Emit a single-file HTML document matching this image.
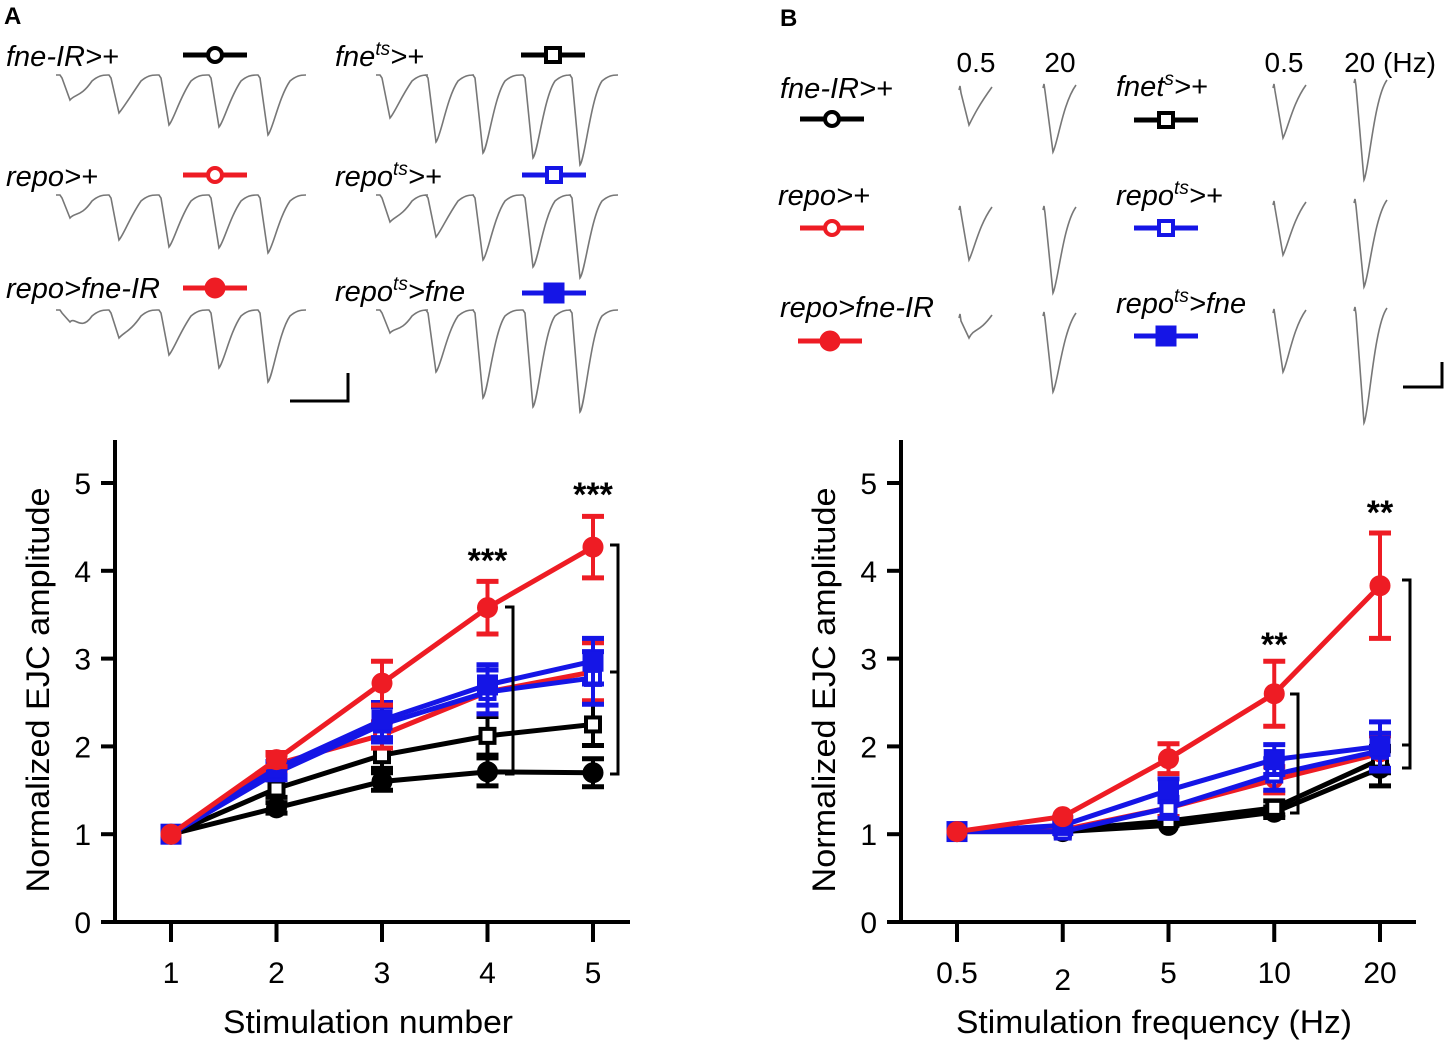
<!DOCTYPE html>
<html><head><meta charset="utf-8"><style>
body{margin:0;background:#fff;width:1450px;height:1046px;overflow:hidden}
svg{display:block;font-family:"Liberation Sans",Arial,sans-serif}
</style></head><body>
<svg id="fig" width="1450" height="1046" viewBox="0 0 1450 1046">
<text x="4" y="24" font-size="24" font-weight="bold">A</text>
<text x="780" y="26" font-size="24" font-weight="bold">B</text>
<g id="legA" font-size="29" font-style="italic">
<text x="6" y="66">fne-IR&gt;+</text>
<text x="6" y="186">repo&gt;+</text>
<text x="6" y="298">repo&gt;fne-IR</text>
<text x="335" y="66">fne<tspan font-size="19" dy="-11">ts</tspan><tspan dy="11">&gt;+</tspan></text>
<text x="335" y="186">repo<tspan font-size="19" dy="-11">ts</tspan><tspan dy="11">&gt;+</tspan></text>
<text x="335" y="301">repo<tspan font-size="19" dy="-11">ts</tspan><tspan dy="11">&gt;fne</tspan></text>
</g>
<g id="legB" font-size="29" font-style="italic">
<text x="780" y="98">fne-IR&gt;+</text>
<text x="778" y="205">repo&gt;+</text>
<text x="780" y="317">repo&gt;fne-IR</text>
<text x="1116" y="96">fnet<tspan font-size="19" dy="-11">s</tspan><tspan dy="11">&gt;+</tspan></text>
<text x="1116" y="205">repo<tspan font-size="19" dy="-11">ts</tspan><tspan dy="11">&gt;+</tspan></text>
<text x="1116" y="313">repo<tspan font-size="19" dy="-11">ts</tspan><tspan dy="11">&gt;fne</tspan></text>
</g>
<g font-size="28">
<text x="976" y="72" text-anchor="middle">0.5</text>
<text x="1060" y="72" text-anchor="middle">20</text>
<text x="1284" y="72" text-anchor="middle">0.5</text>
<text x="1390" y="72" text-anchor="middle">20 (Hz)</text>
</g>
<g id="traces" fill="none" stroke="#777" stroke-width="1.6"></g>
<path d="M290 401 H348 V373" fill="none" stroke="#000" stroke-width="3"/>
<path d="M1403 387 H1442 V362" fill="none" stroke="#000" stroke-width="3"/>
<g id="legendMarks"></g>
<g id="chartA"></g>
<g id="chartB"></g>
</svg>
<script>
// ---- data ----
const xA = ["1","2","3","4","5"];
const xB = ["0.5","2","5","10","20"];
const yTicks = [0,1,2,3,4,5];
const A_fneIR   = [1,1.3,1.6,1.71,1.7];
const A_fneIR_e = [0.03,0.06,0.1,0.16,0.16];
const A_fnets   = [1,1.52,1.9,2.12,2.25];
const A_fnets_e = [0.03,0.1,0.15,0.22,0.24];
const A_repo    = [1,1.8,2.13,2.62,2.85];
const A_repo_e  = [0.03,0.1,0.15,0.25,0.33];
const A_repoIR  = [1,1.85,2.72,3.58,4.27];
const A_repoIR_e= [0.03,0.08,0.25,0.3,0.35];
const A_repots  = [1,1.7,2.25,2.62,2.78];
const A_repots_e= [0.03,0.08,0.2,0.25,0.3];
const A_repotsF = [1,1.75,2.3,2.7,2.97];
const A_repotsF_e=[0.03,0.08,0.2,0.23,0.26];
const B_fneIR   = [1.03,1.03,1.1,1.25,1.75];
const B_fneIR_e = [0.02,0.03,0.04,0.06,0.2];
const B_fnets   = [1.03,1.05,1.15,1.3,1.85];
const B_fnets_e = [0.02,0.03,0.05,0.08,0.15];
const B_repo    = [1.03,1.05,1.3,1.62,1.92];
const B_repo_e  = [0.02,0.03,0.1,0.15,0.2];
const B_repoIR  = [1.03,1.2,1.86,2.6,3.83];
const B_repoIR_e= [0.02,0.04,0.17,0.37,0.6];
const B_repots  = [1.03,1.03,1.3,1.68,1.95];
const B_repots_e= [0.02,0.03,0.12,0.18,0.2];
const B_repotsF = [1.03,1.1,1.5,1.85,2.0];
const B_repotsF_e=[0.02,0.04,0.13,0.17,0.28];
// ---- helpers ----
const NS="http://www.w3.org/2000/svg";
function mk(tag,attrs,parent){const e=document.createElementNS(NS,tag);for(const k in attrs)e.setAttribute(k,attrs[k]);parent.appendChild(e);return e;}
const RED="#ee1c24",BLUE="#1515e6",BLK="#000";
function marker(g,shape,filled,col,x,y){
  let e;
  if(shape==="c"){e=mk("circle",{cx:x,cy:y,r:filled?10:7,fill:filled?col:"#fff",stroke:col,"stroke-width":filled?1:4},g);}
  else{const s=filled?20:14;e=mk("rect",{x:x-s/2,y:y-s/2,width:s,height:s,fill:filled?col:"#fff",stroke:col,"stroke-width":filled?1:4},g);}
  return e;
}
// legend marks
const lg=document.getElementById("legendMarks");
const legendItems=[
 [183,247,55,"c",0,BLK,"legend-fne-ir-a"],[183,247,175,"c",0,RED,"legend-repo-a"],[183,247,288,"c",1,RED,"legend-repo-fne-ir-a"],
 [521,585,55,"s",0,BLK,"legend-fnets-a"],[522,586,175,"s",0,BLUE,"legend-repots-a"],[522,586,293,"s",1,BLUE,"legend-repots-fne-a"],
 [800,864,119,"c",0,BLK,"legend-fne-ir-b"],[800,864,228,"c",0,RED,"legend-repo-b"],[798,862,341,"c",1,RED,"legend-repo-fne-ir-b"],
 [1134,1198,120,"s",0,BLK,"legend-fnets-b"],[1134,1198,228,"s",0,BLUE,"legend-repots-b"],[1134,1198,336,"s",1,BLUE,"legend-repots-fne-b"]];
legendItems.forEach(it=>{
  const g=mk("g",{},lg);
  
  
  mk("line",{x1:it[0],x2:it[1],y1:it[2],y2:it[2],stroke:it[5],"stroke-width":5},g);
  marker(g,it[3],it[4],it[5],(it[0]+it[1])/2,it[2]);
});
// traces
const tg=document.getElementById("traces");
function train(x0,xs,base,bottoms,xend){
  let d=`M${x0} ${base}`;
  xs.forEach((x,i)=>{
    d+=` L${x-2} ${base} L${x} ${base+3} L${x+8} ${bottoms[i]} C${x+13} ${bottoms[i]-6} ${x+19} ${base+22} ${x+30} ${base+6} C${x+36} ${base+1} ${x+40} ${base} ${x+46} ${base}`;
  });
  return d;
}
const trainsA=[
 [56,[62,111,161,211,260],75,[100,113,125,127,135]],
 [56,[62,111,161,211,260],195,[218,240,247,248,253]],
 [56,[62,111,161,211,260],310,[322,338,355,368,382]],
 [376,[382,428,475,525,572],75,[118,142,153,158,165]],
 [376,[382,428,475,525,572],195,[222,237,260,267,278]],
 [376,[382,428,475,525,572],310,[333,372,398,407,412]]];
trainsA.forEach((t,i)=>{const p=mk("path",{d:train(t[0],t[1],t[2],t[3])},tg);
  
  });
function single(x,base,bottom){
  return `M${x} ${base} L${x+1} ${base-4} L${x+2} ${base+3} L${x+10} ${bottom} C${x+15} ${bottom-10} ${x+20} ${base+15} ${x+33} ${base-3}`;
}
const singles=[[959,90,125],[1043,88,152],[1273,88,138],[1354,83,180],
 [959,210,260],[1043,210,293],[1273,205,255],[1354,203,287],
 [959,318,338],[1043,316,392],[1273,313,372],[1354,311,423]];
singles.forEach((s,i)=>{const p=mk("path",{d:single(s[0],s[1],s[2])},tg);
  
  });
// charts
function chart(id,ax,xpos,cats,series,xtitle,xtlen,stars,brackets){
  const g=document.getElementById(id);
  const y=v=>922-v*87.8;
  const x=i=>xpos[0]+i*(xpos[1]-xpos[0])/(cats.length-1);
  const axes=mk("g",{},g);
  
  
  mk("path",{d:`M${ax} 440 V922 H${ax+515}`,fill:"none",stroke:"#000","stroke-width":4},axes);
  yTicks.forEach(t=>{
    mk("line",{x1:ax-14,x2:ax,y1:y(t),y2:y(t),stroke:"#000","stroke-width":4},axes);
    const tx=mk("text",{x:ax-24,y:y(t)+11,"font-size":30,"text-anchor":"end"},axes);tx.textContent=t;
    
    
  });
  cats.forEach((c,i)=>{
    mk("line",{x1:x(i),x2:x(i),y1:922,y2:942,stroke:"#000","stroke-width":4},axes);
    const tx=mk("text",{x:x(i),y:(c==="2"&&id==="chartB")?990:983,"font-size":30,"text-anchor":"middle"},axes);tx.textContent=c;
    
    
  });
  const yt=mk("text",{x:0,y:0,"font-size":32,"text-anchor":"middle",textLength:405,lengthAdjust:"spacingAndGlyphs",transform:`translate(${ax-66},690) rotate(-90)`},axes);yt.textContent="Normalized EJC amplitude";
  
  
  const xt=mk("text",{x:ax+253,y:1033,"font-size":32,"text-anchor":"middle",textLength:xtlen,lengthAdjust:"spacingAndGlyphs"},axes);xt.textContent=xtitle;
  
  
  series.forEach(s=>{
    const sg=mk("g",{},g);
    
    
    mk("polyline",{points:s.v.map((v,i)=>x(i)+","+y(v)).join(" "),fill:"none",stroke:s.col,"stroke-width":5},sg);
    s.v.forEach((v,i)=>{
      const e=s.e[i];
      if(e>0.04){
        mk("line",{x1:x(i),x2:x(i),y1:y(v+e),y2:y(v-e),stroke:s.col,"stroke-width":4},sg);
        mk("line",{x1:x(i)-11,x2:x(i)+11,y1:y(v+e),y2:y(v+e),stroke:s.col,"stroke-width":5},sg);
        mk("line",{x1:x(i)-11,x2:x(i)+11,y1:y(v-e),y2:y(v-e),stroke:s.col,"stroke-width":5},sg);
      }
      const m=marker(sg,s.shape,s.filled,s.col,x(i),y(v));
      
      
    });
  });
  stars.forEach(st=>{
    const t=mk("text",{x:x(st[0]),y:st[2],"font-size":34,"font-weight":"bold","text-anchor":"middle"},g);t.textContent=st[1];
    
    
  });
  brackets.forEach(b=>{
    const p=mk("path",{d:`M${b[0]-8} ${b[1]} H${b[0]} V${b[2]} H${b[0]-8} M${b[0]} ${b[3]} H${b[0]-8}`,fill:"none",stroke:"#000","stroke-width":3},g);
    
    
  });
}
chart("chartA",115,[171,593],xA,[
 {name:"fne-ir",v:A_fneIR,e:A_fneIR_e,col:BLK,shape:"c",filled:1},
 {name:"fnets",v:A_fnets,e:A_fnets_e,col:BLK,shape:"s",filled:0},
 {name:"repo",v:A_repo,e:A_repo_e,col:RED,shape:"c",filled:0},
 {name:"repots",v:A_repots,e:A_repots_e,col:BLUE,shape:"s",filled:0},
 {name:"repots-fne",v:A_repotsF,e:A_repotsF_e,col:BLUE,shape:"s",filled:1},
 {name:"repo-fne-ir",v:A_repoIR,e:A_repoIR_e,col:RED,shape:"c",filled:1}],
 "Stimulation number",290,[[3,"***",572],[4,"***",506]],[[513,607,774,774],[618,545,774,672]]);
chart("chartB",901,[957,1380],xB,[
 {name:"fne-ir",v:B_fneIR,e:B_fneIR_e,col:BLK,shape:"c",filled:1},
 {name:"fnets",v:B_fnets,e:B_fnets_e,col:BLK,shape:"s",filled:0},
 {name:"repo",v:B_repo,e:B_repo_e,col:RED,shape:"c",filled:0},
 {name:"repots",v:B_repots,e:B_repots_e,col:BLUE,shape:"s",filled:0},
 {name:"repots-fne",v:B_repotsF,e:B_repotsF_e,col:BLUE,shape:"s",filled:1},
 {name:"repo-fne-ir",v:B_repoIR,e:B_repoIR_e,col:RED,shape:"c",filled:1}],
 "Stimulation frequency (Hz)",396,[[3,"**",656],[4,"**",524]],[[1298,694,813,813],[1410,580,768,745]]);
</script>
</body></html>
